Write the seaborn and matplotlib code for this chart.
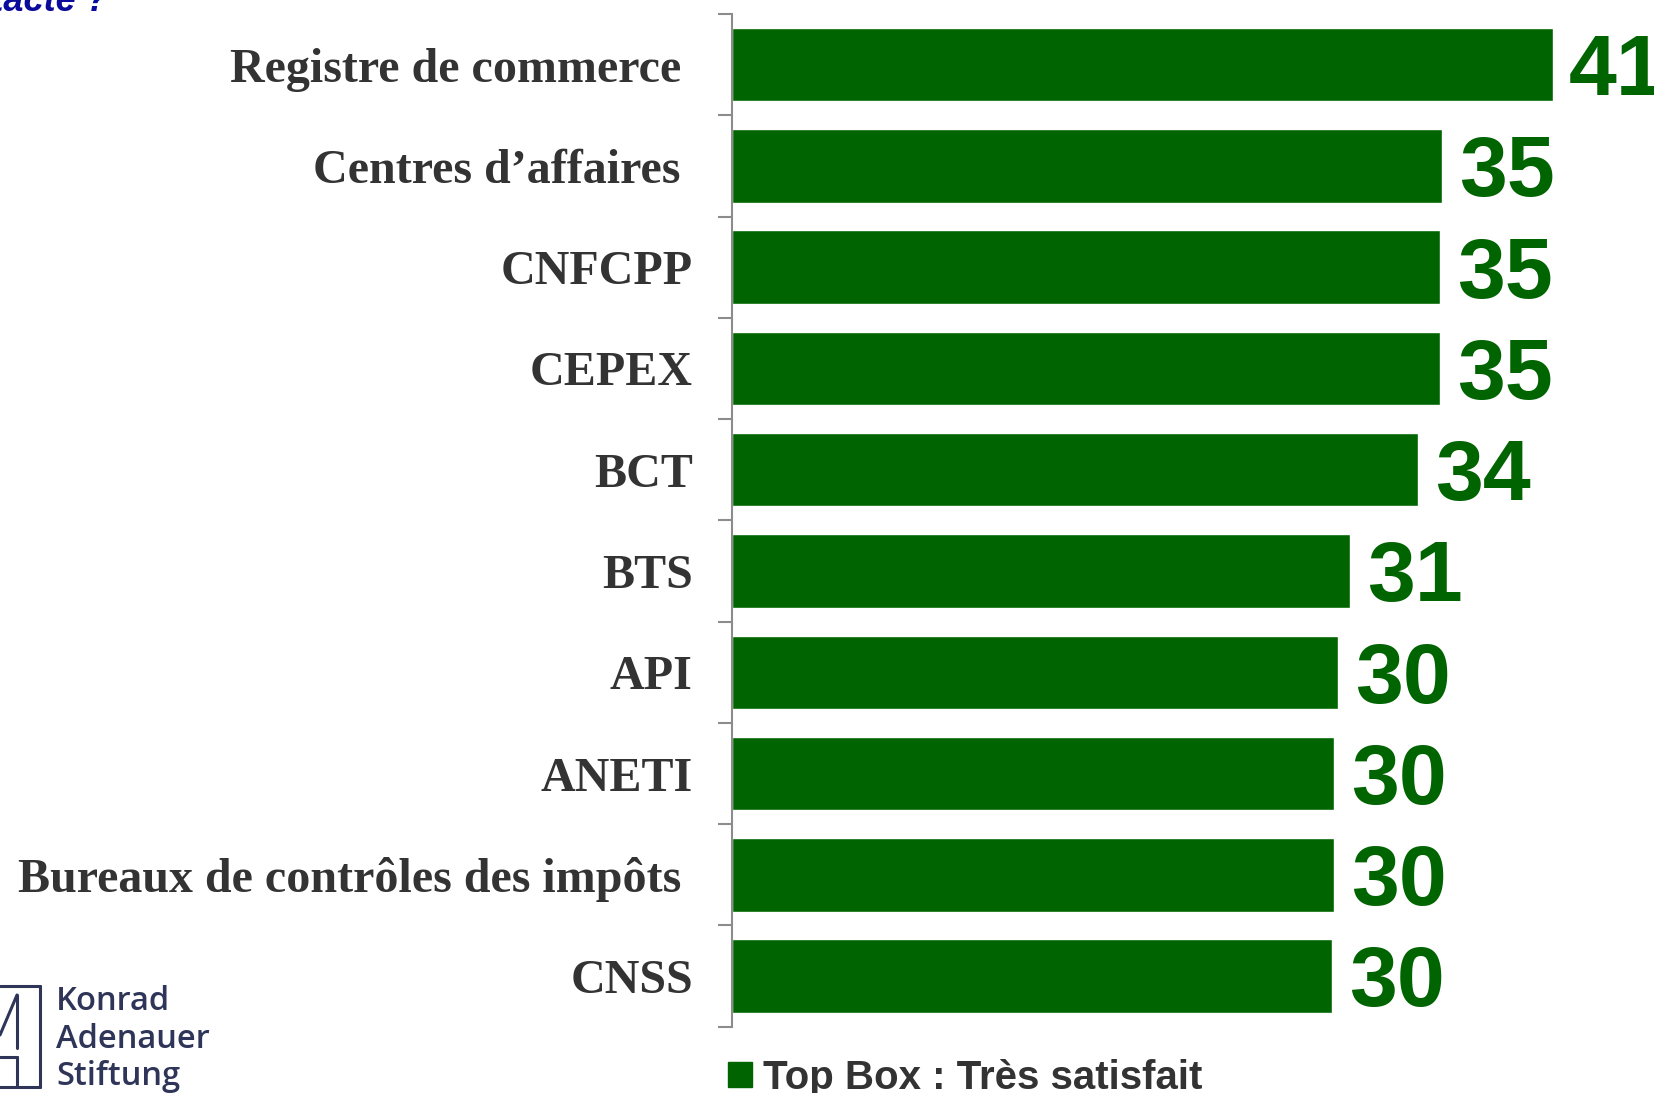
import seaborn as sns
import matplotlib.pyplot as plt
from matplotlib.patches import Patch
from matplotlib.lines import Line2D

sns.set_theme(style="white")

organismes = ["Registre de commerce ", "Centres d\u2019affaires ", "CNFCPP",
              "CEPEX", "BCT", "BTS", "API", "ANETI",
              "Bureaux de contrôles des impôts ", "CNSS"]
scores = [41.0, 35.5, 35.4, 35.4, 34.3, 30.9, 30.3, 30.1, 30.1, 30.0]
score_labels = ["41", "35", "35", "35", "34", "31", "30", "30", "30", "30"]
legend_label = "Top Box : Très satisfait"

green = "#006400"
W, H = 1654, 1093

fig = plt.figure(figsize=(W / 100, H / 100), dpi=100)
ax = fig.add_axes([731.7 / W, 1 - 1026.7 / H, 1 - 731.7 / W, (1026.7 - 14) / H])

sns.barplot(x=scores, y=organismes, orient="h", color=green,
            width=0.725, saturation=1, ax=ax)
ax.set_xlim(0, 46.07)
ax.set_ylim(len(organismes) - 0.5, -0.5)

# labels on minor ticks (centres), tick marks on major ticks (boundaries)
ax.set_yticks([i - 0.5 for i in range(len(organismes) + 1)])
ax.set_yticklabels([])
ax.set_yticks(range(len(organismes)), organismes, minor=True)
ax.tick_params(axis="y", which="major", left=True, length=10, width=1.5,
               color="#8c8c8c")
ax.tick_params(axis="y", which="minor", left=False, length=0, pad=28)
for lab in ax.get_yticklabels(minor=True):
    lab.set_fontfamily("Liberation Serif")
    lab.set_fontweight("bold")
    lab.set_fontsize(34.6)
    lab.set_color("#333333")
ax.set_xticks([])
ax.set_xlabel("")
ax.set_ylabel("")
for side in ["top", "right", "bottom"]:
    ax.spines[side].set_visible(False)
ax.spines["left"].set_color("#8c8c8c")
ax.spines["left"].set_linewidth(1.5)

value_texts = ax.bar_label(ax.containers[0], labels=score_labels, padding=12,
                           fontsize=62, fontweight="bold", color=green,
                           family="Liberation Sans", clip_on=False)
for t in value_texts:
    t.xyann = (12, -6)

# legend at the bottom
fig.legend(handles=[Patch(color=green)], labels=[legend_label],
           loc="center left", bbox_to_anchor=(728 / W, 1 - 1078 / H),
           frameon=False, borderpad=0, borderaxespad=0,
           handlelength=0.6, handleheight=0.58, handletextpad=0.27,
           prop={"family": "Liberation Sans", "weight": "bold", "size": 29},
           labelcolor="#333333")

# cropped question title at the top left
fig.text(108 / W, 1 - 11 / H, "contacté ?", ha="right", va="baseline",
         fontsize=26, fontweight="bold", style="italic", color="#0a0a9c",
         family="Liberation Sans")

# Konrad Adenauer Stiftung logo
logo_color = "#2e3558"
for i, word in enumerate(["Konrad", "Adenauer", "Stiftung"]):
    fig.text(56 / W, 1 - (1010 + 37.5 * i) / H, word, ha="left",
             va="baseline", fontsize=23.5, fontweight="semibold",
             color=logo_color, family="Open Sans")
logo_lines = [([0, 40], [986, 986]), ([40, 40], [986, 1087]),
              ([0, 40], [1087, 1087]), ([17, 17], [995, 1048]),
              ([0, 17], [1035, 995]), ([0, 17], [1057, 1057]),
              ([17, 17], [1057, 1087])]
for xs, ys in logo_lines:
    fig.add_artist(Line2D([x / W for x in xs], [1 - y / H for y in ys],
                          color=logo_color, lw=2.2))

fig.savefig("out.png", dpi=100)
